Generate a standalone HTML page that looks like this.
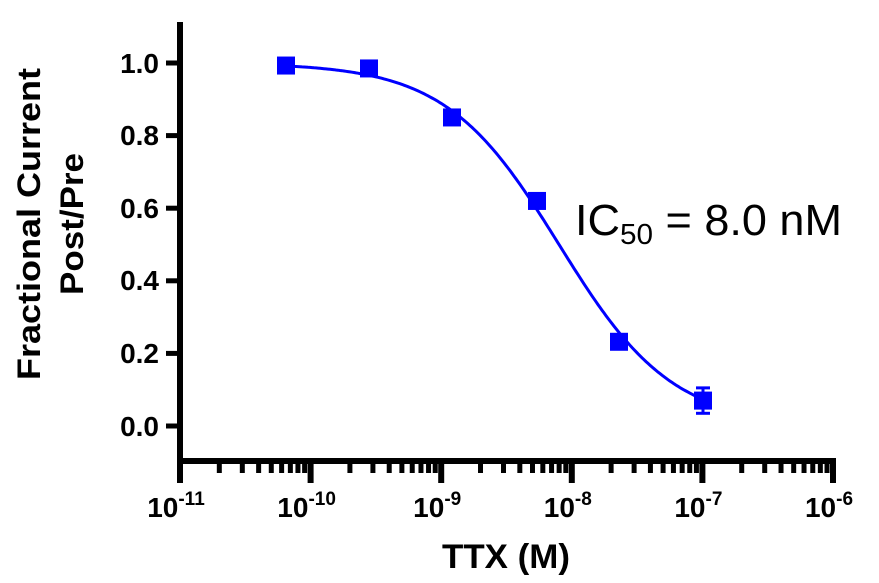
<!DOCTYPE html>
<html><head><meta charset="utf-8"><style>
html,body{margin:0;padding:0;background:#fff;}
svg{display:block;}
text{font-family:"Liberation Sans",Arial,sans-serif;}
</style></head><body>
<svg id="s" width="879" height="583" viewBox="0 0 879 583" xmlns="http://www.w3.org/2000/svg">
<g stroke="#000" stroke-width="6" fill="none">
<line x1="180" y1="22" x2="180" y2="464"/>
<line x1="177" y1="461" x2="836" y2="461"/>
<g id="yt"></g><g id="xt"></g>
</g>
<g font-weight="bold" font-size="28" text-anchor="end" fill="#000">
<text x="159" y="73">1.0</text>
<text x="159" y="145">0.8</text>
<text x="159" y="218">0.6</text>
<text x="159" y="290">0.4</text>
<text x="159" y="363">0.2</text>
<text x="159" y="436">0.0</text>
</g>
<g font-weight="bold" font-size="28" text-anchor="middle" fill="#000" id="xl"></g>
<text transform="translate(40,224) rotate(-90)" font-weight="bold" font-size="32" text-anchor="middle" textLength="312" lengthAdjust="spacingAndGlyphs">Fractional Current</text>
<text transform="translate(83,224) rotate(-90)" font-weight="bold" font-size="32" text-anchor="middle" textLength="142" lengthAdjust="spacingAndGlyphs">Post/Pre</text>
<text x="506" y="568" font-weight="bold" font-size="34" text-anchor="middle" textLength="128" lengthAdjust="spacingAndGlyphs">TTX (M)</text>
<text x="575" y="235" font-size="44" textLength="267" lengthAdjust="spacingAndGlyphs">IC<tspan font-size="29" dy="9">50</tspan><tspan dy="-9"> = 8.0 nM</tspan></text>
<path id="curve" fill="none" stroke="#0000ff" stroke-width="3"/>
<g fill="#0000ff" stroke="#0000ff" id="pts"></g>
</svg>
<script>
var ns="http://www.w3.org/2000/svg";
function el(p,t,a){var e=document.createElementNS(ns,t);for(var k in a)e.setAttribute(k,a[k]);document.getElementById(p).appendChild(e);return e;}
var X0=180,D=130.6,Y0=426,Y1=63;
function yv(v){return Y0-(Y0-Y1)*v;}
[1,0.8,0.6,0.4,0.2,0].forEach(function(v){el("yt","line",{x1:166,y1:yv(v),x2:180,y2:yv(v),"stroke-width":5});});
for(var d=0;d<=5;d++){var x=X0+d*D;el("xt","line",{x1:x,y1:461,x2:x,y2:483,"stroke-width":6});
 var t=el("xl","text",{x:x-4,y:517});t.textContent="10";var s=document.createElementNS(ns,"tspan");s.setAttribute("font-size","19");s.setAttribute("dy","-12");s.textContent="-"+(11-d);t.appendChild(s);
 if(d<5)for(var m=2;m<=9;m++){var xm=x+Math.log10(m)*D;el("xt","line",{x1:xm,y1:461,x2:xm,y2:473,"stroke-width":5});}}
var pd="";for(var x=286;x<=704;x+=2){var v=1/(1+Math.pow(10,(x-559)/D));pd+=(x==286?"M":"L")+x+","+yv(v).toFixed(1);}
document.getElementById("curve").setAttribute("d",pd);
var P=[[286,0.993],[369,0.985],[452,0.85],[537,0.62],[619,0.232],[703,0.07]];
P.forEach(function(p){var y=yv(p[1]);el("pts","rect",{x:p[0]-9,y:y-9,width:18,height:18,stroke:"none"});});
var y1=yv(0.105),y2=yv(0.035);
el("pts","line",{x1:703,y1:y1,x2:703,y2:y2,"stroke-width":3});
el("pts","line",{x1:696,y1:y1,x2:710,y2:y1,"stroke-width":3});
el("pts","line",{x1:696,y1:y2,x2:710,y2:y2,"stroke-width":3});
</script>
</body></html>
